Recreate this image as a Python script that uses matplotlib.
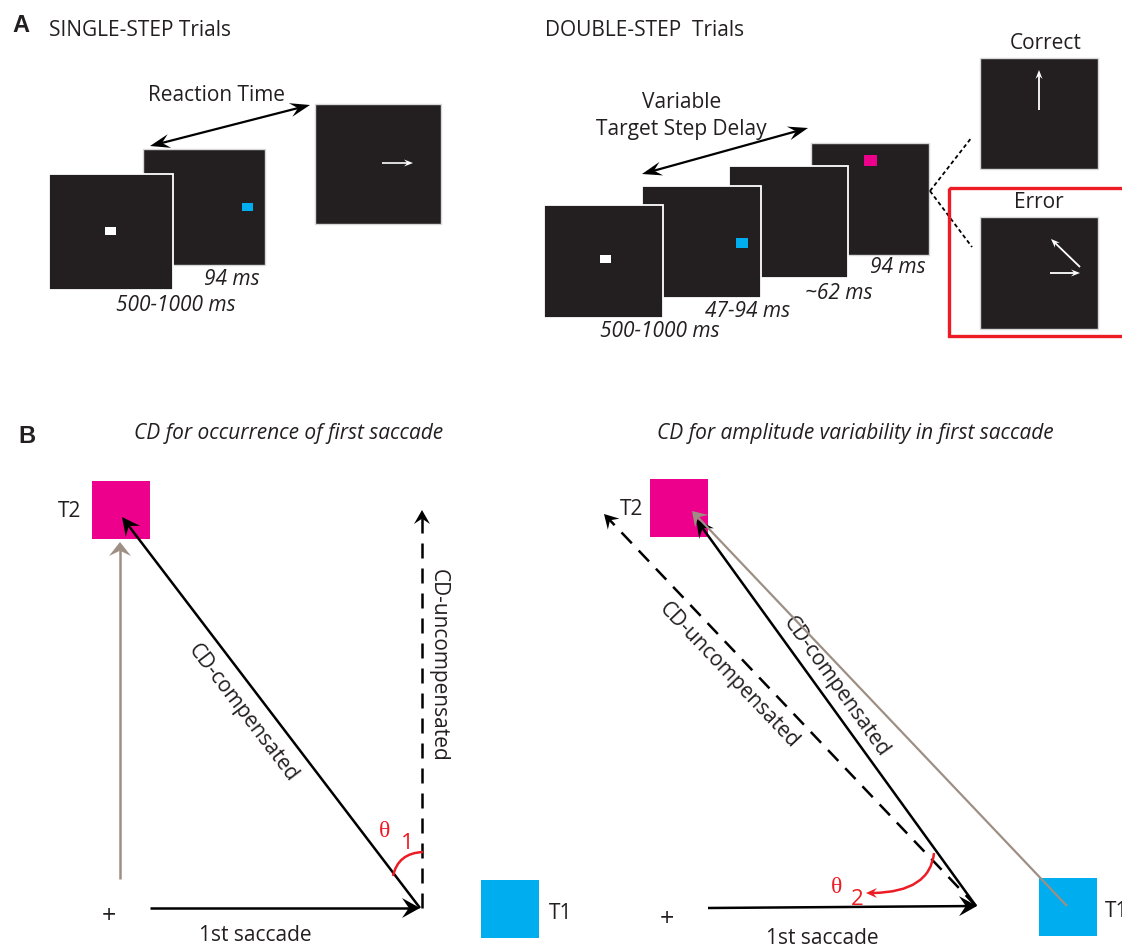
import numpy as np
import matplotlib.pyplot as plt
from matplotlib.patches import Rectangle, Polygon, PathPatch
from matplotlib.path import Path

# labels shown in the figure
single_times = ['500-1000 ms', '94 ms']
double_times = ['500-1000 ms', '47-94 ms', '~62 ms', '94 ms']
outcomes = ['Correct', 'Error']
trial_titles = ['SINGLE-STEP Trials', 'DOUBLE-STEP  Trials']
cd_titles = ['CD for occurrence of first saccade',
             'CD for amplitude variability in first saccade']
vec_labels = ['CD-compensated', 'CD-uncompensated', '1st saccade']
targets = ['T1', 'T2']

SCREEN = '#231f20'
MAGENTA = '#ec008c'
CYAN = '#00aeef'
RED = '#ed1c24'
TAUPE = '#9e8f84'
TXT = '#231f20'

plt.rcParams['font.family'] = ['Open Sans', 'DejaVu Sans']
fig = plt.figure(figsize=(11.22, 9.47), dpi=100)
ax = fig.add_axes([0, 0, 1, 1])
ax.set_xlim(0, 1122)
ax.set_ylim(947, 0)
ax.axis('off')


def screen(x0, y0, x1, y1, z, edge='#d8d8d8', lw=1.0):
    ax.add_patch(Rectangle((x0, y0), x1 - x0, y1 - y0, fc=SCREEN, ec=edge, lw=lw, zorder=z))


def head(tip, tail, L, W, color, z=5):
    tip = np.array(tip, float)
    d = tip - np.array(tail, float)
    d /= np.hypot(*d)
    n = np.array([-d[1], d[0]])
    pts = [tip, tip - L * d + W * n, tip - 0.62 * L * d, tip - L * d - W * n]
    ax.add_patch(Polygon(pts, closed=True, fc=color, ec='none', zorder=z))


def arrow(p0, p1, color='black', lw=1.8, ls='-', L=16, W=8, both=False, z=5):
    p0 = np.array(p0, float)
    p1 = np.array(p1, float)
    d = (p1 - p0) / np.hypot(*(p1 - p0))
    a = p0 + 0.6 * L * d if both else p0
    b = p1 - 0.6 * L * d
    ax.plot([a[0], b[0]], [a[1], b[1]], color=color, lw=lw, ls=ls, zorder=z,
            solid_capstyle='butt', dash_capstyle='butt')
    head(p1, p0, L, W, color, z)
    if both:
        head(p0, p1, L, W, color, z)


def txt(x, y, s, size=15, **kw):
    kw.setdefault('ha', 'center')
    kw.setdefault('va', 'center')
    kw.setdefault('color', TXT)
    ax.text(x, y, s, fontsize=size, **kw)


# ---------------- panel A ----------------
txt(21, 25, 'A', size=17, fontweight='bold', family='Liberation Sans')
txt(49, 30, trial_titles[0], ha='left')
txt(545, 30, trial_titles[1], ha='left')

# single step
screen(315, 104, 441, 224, 1)
screen(143, 149, 265, 265, 2)
screen(49, 174, 173, 290, 3, edge='white', lw=1.3)
ax.add_patch(Rectangle((105, 227), 11, 8, fc='white', zorder=4))
ax.add_patch(Rectangle((242, 203), 11, 8, fc=CYAN, zorder=4))
arrow((382, 163), (413, 163), color='white', lw=1.2, L=9, W=3.5)
arrow((150, 146), (310, 105), lw=1.6, L=20, W=7, both=True)
txt(217, 95, 'Reaction Time')
txt(232, 279, single_times[1], style='italic')
txt(176, 305, single_times[0], style='italic')

# double step
screen(811, 143, 929, 255, 1)
screen(729, 166, 848, 278, 2, edge='white', lw=1.3)
screen(642, 186, 761, 298, 3, edge='white', lw=1.3)
screen(544, 205, 663, 318, 4, edge='white', lw=1.3)
ax.add_patch(Rectangle((600, 255), 11, 8, fc='white', zorder=5))
ax.add_patch(Rectangle((736, 238), 12, 10, fc=CYAN, zorder=5))
ax.add_patch(Rectangle((864, 155), 13, 11, fc=MAGENTA, zorder=5))
arrow((642, 174), (808, 128), lw=1.6, L=20, W=7, both=True)
txt(682, 102, 'Variable')
txt(681, 129, 'Target Step Delay')
txt(660, 331, double_times[0], style='italic')
txt(748, 311, double_times[1], style='italic')
txt(839, 293, double_times[2], style='italic')
txt(898, 267, double_times[3], style='italic')

# outcomes
screen(980, 58, 1098, 169, 1)
screen(980, 217, 1098, 329, 1)
txt(1046, 43, outcomes[0])
txt(1039, 202, outcomes[1])
arrow((1039, 110), (1039, 70), color='white', lw=1.3, L=9, W=3.5)
arrow((1080, 267), (1051, 239), color='white', lw=1.3, L=9, W=3.5)
arrow((1050, 273), (1080, 273), color='white', lw=1.3, L=9, W=3.5)
ax.plot([930, 972], [191, 137], color='black', lw=1.3, ls=(0, (2.2, 1.6)))
ax.plot([930, 972], [191, 247], color='black', lw=1.3, ls=(0, (2.2, 1.6)))
ax.add_patch(Rectangle((949, 188), 250, 148, fc='none', ec=RED, lw=2.4, zorder=6))

# ---------------- panel B ----------------
txt(27, 436, 'B', size=17, fontweight='bold', family='Liberation Sans')
txt(289, 433, cd_titles[0], style='italic')
txt(855, 433, cd_titles[1], style='italic')

# left diagram
ax.add_patch(Rectangle((92, 481), 58, 58, fc=MAGENTA, zorder=1))
ax.add_patch(Rectangle((481, 880), 58, 58, fc=CYAN, zorder=1))
txt(70, 511, targets[1])
txt(549, 913, targets[0], ha='left')
arrow((120, 879), (120, 542), color=TAUPE, lw=1.8, L=14, W=11)
arrow((420, 908), (122, 517), lw=1.8, L=18, W=9)
arrow((422, 908), (422, 510), lw=1.8, ls=(0, (6, 4)), L=14, W=8)
arrow((150, 908), (420, 908), lw=1.8, L=18, W=10)
txt(109, 916, '+', size=18)
txt(255, 935, vec_labels[2])
txt(438, 665, vec_labels[1], rotation=-90, rotation_mode='anchor')
txt(243, 713, vec_labels[0], rotation=-52.7, rotation_mode='anchor')
ax.add_patch(PathPatch(Path([(393, 876), (398, 853), (423, 852)],
                            [Path.MOVETO, Path.CURVE3, Path.CURVE3]),
                       fc='none', ec=RED, lw=1.8, zorder=6))
txt(385, 831, 'θ', size=17, color=RED, family='Liberation Serif')
txt(407, 843, '1', size=16, color=RED)

# right diagram
ax.add_patch(Rectangle((650, 479), 58, 58, fc=MAGENTA, zorder=1))
ax.add_patch(Rectangle((1039, 878), 58, 58, fc=CYAN, zorder=1))
txt(632, 509, targets[1])
txt(1105, 911, targets[0], ha='left')
arrow((976, 906), (604, 514), lw=1.8, ls=(0, (6, 4)), L=14, W=8)
arrow((976, 906), (696, 519), lw=1.8, L=18, W=9)
arrow((1067, 906), (692, 511), color=TAUPE, lw=1.6, L=14, W=9, z=6)
arrow((708, 908), (977, 906), lw=1.8, L=18, W=10)
txt(667, 919, '+', size=18)
txt(822, 938, vec_labels[2])
txt(836, 687, vec_labels[0], rotation=-54.4, rotation_mode='anchor')
txt(729, 676, vec_labels[1], rotation=-46.4, rotation_mode='anchor')
ax.add_patch(PathPatch(Path([(934, 853), (930, 892), (873, 893)],
                            [Path.MOVETO, Path.CURVE3, Path.CURVE3]),
                       fc='none', ec=RED, lw=1.8, zorder=6))
head((866, 893), (880, 893), 11, 5, RED, z=6)
txt(837, 887, 'θ', size=17, color=RED, family='Liberation Serif')
txt(857, 899, '2', size=16, color=RED)

fig.savefig('out.png', dpi=100)
